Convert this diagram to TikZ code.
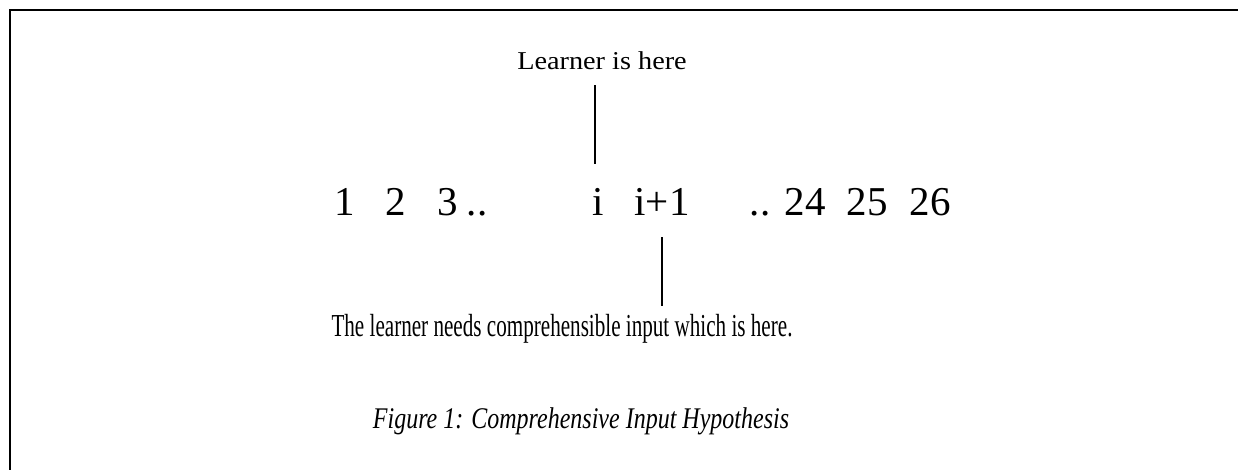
\documentclass[tikz,border=0pt]{standalone}
\usepackage{fontspec}
\setmainfont{Liberation Serif}
\usepackage{tikz}
\usetikzlibrary{positioning}

\tikzset{
  numlabel/.style={inner sep=0pt, anchor=base, font=\fontsize{41}{41}\selectfont},
  notetext/.style={inner sep=0pt, anchor=base},
  pointer/.style={draw, line width=1.1pt}
}

\begin{document}
\begin{tikzpicture}[x=1pt, y=-1pt]
    \useasboundingbox (0,0) rectangle (1238,470);
    \clip (0,0) rectangle (1238,470);
    \draw[line width=2.4pt] (10,10) rectangle (1260,490);

    % top note
    \node[notetext, font=\fontsize{25.7}{26}\selectfont] (learner) at (602,70)
      {\scalebox{1.1}[1]{Learner is here}};

    % number row
    \foreach \lab/\x/\nm in {1/345/nA, 2/396/nB, 3/448/nC, ../477/dotsA,
                             i/598/ni, i+1/662/nnext, ../760/dotsB,
                             24/805/nX, 25/867/nY, 26/930/nZ}
      \node[numlabel] (\nm) at (\x,215) {\lab};

    % bottom note and caption
    \node[notetext, font=\fontsize{32}{32}\selectfont] (needs) at (562,336)
      {\scalebox{0.66}[1]{The learner needs comprehensible input which is here.}};
    \node[notetext, font=\fontsize{30}{30}\selectfont\itshape] (caption) at (581,428)
      {\scalebox{0.8}[1]{Figure 1: Comprehensive Input Hypothesis}};

    \draw[pointer] ([xshift=-3pt, yshift=-15pt]learner.south -| ni) -- ([xshift=-3pt, yshift=24pt]ni.north);
    \draw[pointer] ([yshift=-22pt]nnext.south) -- ([yshift=8pt]needs.north -| nnext.south);
\end{tikzpicture}
\end{document}
